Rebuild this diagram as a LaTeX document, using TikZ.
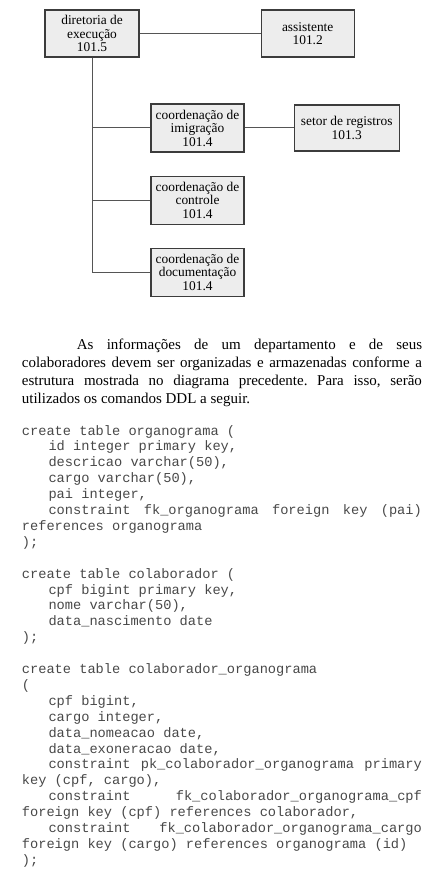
\documentclass[tikz,border=0pt]{standalone}
\usepackage{fontspec}
\setmainfont{Liberation Serif}
\setmonofont{Liberation Mono}
\usetikzlibrary{positioning}
\definecolor{boxfill}{HTML}{EDEDED}
\definecolor{boxline}{HTML}{3C3C3C}
\definecolor{linkline}{HTML}{555555}
\definecolor{codetext}{HTML}{484848}
\frenchspacing

\begin{document}
\begin{tikzpicture}[
				x=1pt,y=-1pt,
				orgbox/.style={draw=boxline,line width=1.2pt,fill=boxfill,rectangle,minimum width=93pt,minimum height=48pt,inner sep=1pt,align=center,font=\fontsize{13.4}{13.5}\selectfont},
				link/.style={draw=linkline,line width=1pt},
				paraline/.style={anchor=base west,inner sep=0pt,font=\fontsize{15}{18}\selectfont},
				codeline/.style={anchor=base west,inner sep=0pt,text=codetext,font=\ttfamily\fontsize{13.67}{15.9}\selectfont}
				]
				\useasboundingbox (0,0) rectangle (429,874);
				
				\node[orgbox,minimum width=94pt,minimum height=47pt] (dir) at (92,33.5) {diretoria de\\execução\\101.5};
				\node[orgbox,minimum height=47pt,right=121pt of dir] (assist) {assistente\\101.2};
				\node[orgbox] (imig) at (197.5,128) {coordenação de\\imigração\\101.4};
				\node[orgbox,minimum width=105pt,minimum height=46pt,right=49pt of imig] (setor) {setor de registros\\101.3};
				\node[orgbox,below=23pt of imig] (ctrl) {coordenação de\\controle\\101.4};
				\node[orgbox,below=23pt of ctrl] (docu) {coordenação de\\documentação\\101.4};
				
				\draw[link] (dir) -- (assist);
				\draw[link] (imig) -- (setor);
				\draw[link] (dir.south) |- (docu.west);
				\draw[link] (dir.south |- imig.west) -- (imig.west);
				\draw[link] (dir.south |- ctrl.west) -- (ctrl.west);
				
				\node[paraline] (p1) at (76.7,349) {\makebox[345.3pt][s]{As informações de um departamento e de seus}};
				\node[paraline] (p2) at (21.7,367) {\makebox[400pt][s]{colaboradores devem ser organizadas e armazenadas conforme a}};
				\node[paraline] (p3) at (21.7,385) {\makebox[400pt][s]{estrutura mostrada no diagrama precedente. Para isso, serão}};
				\node[paraline] (p4) at (21.7,403) {utilizados os comandos DDL a seguir.};
				
				\foreach \n/\x/\t in {
						0/21.7/{create table organograma (},
						1/48.3/{id integer primary key,},
						2/48.3/{descricao varchar(50),},
						3/48.3/{cargo varchar(50),},
						4/48.3/{pai integer,},
						5/48.3/{\makebox[373.4pt]{constraint\hfill fk\_organograma\hfill foreign\hfill key\hfill (pai)}},
						6/21.7/{references organograma},
						7/21.7/{);},
						9/21.7/{create table colaborador (},
						10/48.3/{cpf bigint primary key,},
						11/48.3/{nome varchar(50),},
						12/48.3/{data\_nascimento date},
						13/21.7/{);},
						15/21.7/{create table colaborador\_organograma},
						16/21.7/{(},
						17/48.3/{cpf bigint,},
						18/48.3/{cargo integer,},
						19/48.3/{data\_nomeacao date,},
						20/48.3/{data\_exoneracao date,},
						21/48.3/{\makebox[373.4pt]{constraint\hfill pk\_colaborador\_organograma\hfill primary}},
						22/21.7/{key (cpf, cargo),},
						23/48.3/{\makebox[373.4pt]{constraint\hfill fk\_colaborador\_organograma\_cpf}},
						24/21.7/{foreign key (cpf) references colaborador,},
						25/48.3/{\makebox[373.4pt]{constraint\hfill fk\_colaborador\_organograma\_cargo}},
						26/21.7/{foreign key (cargo) references organograma (id)},
						27/21.7/{);}}
					\node[codeline] (code\n) at (\x,435+15.9*\n) {\t};
				
			\end{tikzpicture}
\end{document}
